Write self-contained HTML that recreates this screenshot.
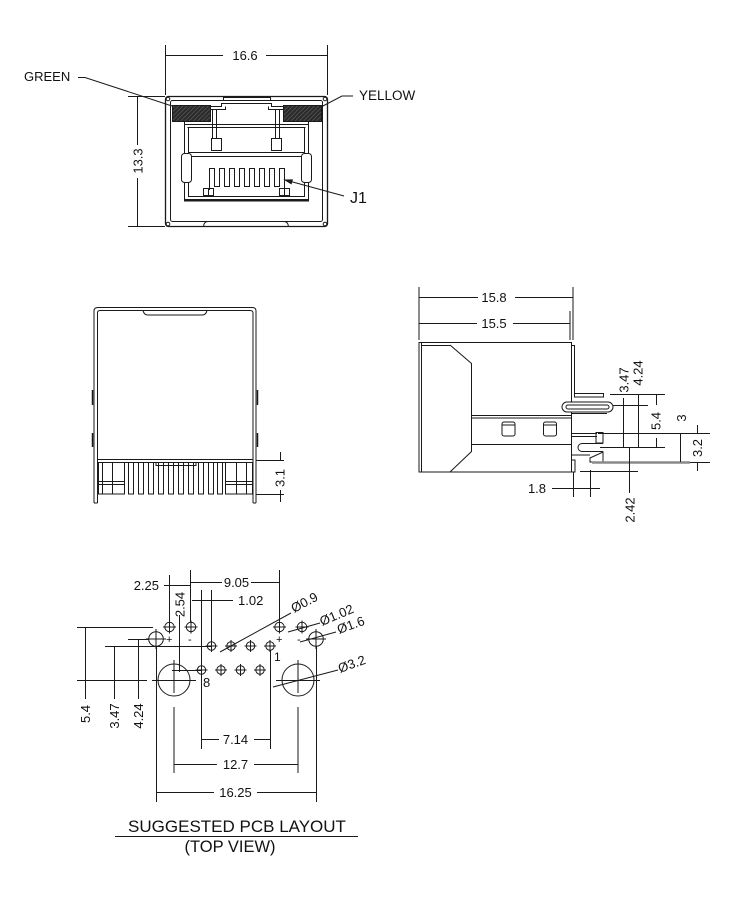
<!DOCTYPE html>
<html><head><meta charset="utf-8"><style>
html,body{margin:0;padding:0;background:#fff}
svg{display:block}
text{font-family:"Liberation Sans",Arial,sans-serif;fill:#111;stroke:none}
</style></head><body>
<svg width="750" height="900" viewBox="0 0 750 900" xmlns="http://www.w3.org/2000/svg">
<defs>
<pattern id="h" width="3" height="3" patternUnits="userSpaceOnUse" patternTransform="rotate(45)"><rect width="3" height="3" fill="#2b2b2b"/><line x1="0" y1="0" x2="0" y2="3" stroke="#6a6a6a" stroke-width="1"/></pattern>
</defs>
<g fill="none" stroke="#1a1a1a" stroke-width="1">
<!-- ===== FRONT VIEW ===== -->
<rect x="165.5" y="96.5" width="162" height="130" rx="3" stroke-width="1.3"/>
<rect x="170.5" y="100.5" width="152" height="121" rx="2"/>
<circle cx="168" cy="99" r="1.8"/><circle cx="325" cy="99" r="1.8"/>
<circle cx="168" cy="224" r="1.8"/><circle cx="325" cy="224" r="1.8"/>
<rect x="172.5" y="105.5" width="38" height="16" fill="url(#h)"/>
<rect x="283.5" y="105.5" width="38" height="16" fill="url(#h)"/>
<path d="M223.5 100.5 V97.5 H270.5 V100.5"/>
<path d="M210.5 106.5 H221.5 V103.5 H271.5 V106.5 H283.5"/>
<path d="M210.5 109.5 H225.5 V106.5"/><path d="M283.5 109.5 H268.5 V106.5"/>
<path d="M212.5 109 V138.5 M216.5 109 V138.5"/>
<rect x="211.5" y="138.5" width="10" height="12"/>
<path d="M275.5 109 V138.5 M279.5 109 V138.5"/>
<rect x="271.5" y="138.5" width="10" height="12"/>
<path d="M184.5 121.5 V199.5 H308.5 V121.5"/>
<path d="M184 200.5 H309" stroke-width="2"/>
<path d="M184.5 124.5 H308.5 M187.5 127.5 H305.5"/>
<path d="M188.5 152.5 H304.5 M191.5 156.5 H301.5"/>
<path d="M188.5 128 V196.5 H304.5 V128"/>
<rect x="181.5" y="153.5" width="10" height="29" rx="3" fill="#fff"/>
<rect x="301.5" y="153.5" width="10" height="29" rx="3" fill="#fff"/>
<path d="M209.5 190 V168.5 H214.5 V186.5 H219.5 V168.5 H224.5 V186.5 H229.5 V168.5 H234.5 V186.5 H239.5 V168.5 H244.5 V186.5 H249.5 V168.5 H254.5 V186.5 H259.5 V168.5 H264.5 V186.5 H269.5 V168.5 H274.5 V186.5 H279.5 V168.5 H284.5 V190"/>
<rect x="203.5" y="188.5" width="10" height="7"/><path d="M208.5 188.5 V195.5"/>
<rect x="279.5" y="188.5" width="10" height="7"/><path d="M284.5 188.5 V195.5"/>
<path d="M203.5 226.5 Q204 221.5 208 221.5 H283.5 Q288 221.5 288.5 226.5"/>
<!-- leaders -->
<polyline points="78,77.5 85,77.5 172,106"/>
<polyline points="353,96 342,96 321,107"/>
<line x1="289" y1="181" x2="344" y2="196"/>
<polygon points="285,180 291.2,183.7 292.3,179.9" fill="#1a1a1a"/>
<!-- dims -->
<path d="M165.5 45 V95 M327.5 45 V95"/>
<path d="M166 55.5 H223 M266 55.5 H327"/>
<path d="M128 96.5 H165 M128 226.5 H165"/>
<path d="M137.5 96.5 V145 M137.5 178 V226.5"/>

<!-- ===== SIDE VIEW (left) ===== -->
<path d="M94 503 V311 Q94 307.5 98 307.5 H252 Q256 307.5 256 311 V503"/>
<path d="M97.5 503 V313 Q97.5 310.5 100 310.5 H250 Q253 310.5 253 313 V503"/>
<path d="M94 503 H97.5 M253 503 H256"/>
<path d="M143 310.5 Q144 315 148 315 H202 Q206 315 207 310.5"/>
<path d="M92.5 390 V405 M92.5 433 V447 M257.5 390 V405 M257.5 433 V447" stroke-width="1.5"/>
<path d="M97.5 459.5 H253 M98 462.5 H252"/>
<rect x="98.5" y="462.5" width="26" height="31.5"/>
<path d="M102.5 462.5 V494 M112.5 462.5 V494 M98.5 481.5 H124.5 M98.5 484.5 H124.5"/>
<rect x="128.5" y="462.5" width="5" height="31.5"/>
<rect x="138.5" y="462.5" width="5" height="31.5"/>
<rect x="148.5" y="462.5" width="5" height="31.5"/>
<rect x="158.5" y="462.5" width="5" height="31.5"/>
<rect x="168.5" y="462.5" width="5" height="31.5"/>
<rect x="178.5" y="462.5" width="5" height="31.5"/>
<rect x="188.5" y="462.5" width="5" height="31.5"/>
<rect x="198.5" y="462.5" width="5" height="31.5"/>
<rect x="208.5" y="462.5" width="5" height="31.5"/>
<rect x="217.5" y="462.5" width="5" height="31.5"/>
<path d="M156 462.5 V465.5 H196 V462.5"/>
<rect x="225.5" y="462.5" width="27" height="31.5"/>
<path d="M236.5 462.5 V494 M246.5 462.5 V494 M225.5 481.5 H252.5 M225.5 484.5 H252.5"/>
<path d="M256 460.5 H284 M256 494.5 H284"/>
<path d="M280.5 452 V461 M280.5 490 V502"/>

<!-- ===== SIDE VIEW (right) ===== -->
<path d="M419 342.5 H571.5 V472 H419 Z"/>
<path d="M421.5 342.5 V472 M421.5 345.5 H450"/>
<path d="M450 345 L471.5 363.5 V451.5 L450 472"/>
<path d="M471.5 415.5 H571.5 M471.5 418 H571.5 M471.5 444.5 H571.5"/>
<rect x="502" y="422" width="13" height="14" rx="2"/><path d="M502 425 H515"/>
<rect x="543.5" y="422" width="13" height="14" rx="2"/><path d="M543.5 425 H556.5"/>
<path d="M571.5 345.5 H574.5 V393 M571.5 460 H575 V472 H571.5"/>
<rect x="574.5" y="393.5" width="29" height="3.5"/>
<rect x="562" y="402" width="51" height="10" rx="5" fill="#fff"/>
<rect x="566" y="405" width="43" height="4" rx="2"/>
<path d="M571.5 413.5 H607"/>
<path d="M571.5 433.5 H597 M571.5 436.5 H597"/>
<path d="M596 432.5 H603 V443 H596 Z"/>
<path d="M603 443.5 H582 A4 4 0 0 0 582 451.5 H603"/>
<path d="M571.5 455 H590 M590 462 V458 L603 452 V462 Z"/>
<line x1="592" y1="462.5" x2="690" y2="462.5" stroke="#8a8a8a" stroke-width="2.5"/>
<path d="M690 462.5 H710"/>
<!-- dims right -->
<path d="M419 287 V340 M573 287 V340 M570 311 V340"/>
<path d="M419 297.5 H478 M515 297.5 H573"/>
<path d="M419 323.5 H477 M513 323.5 H570"/>
<path d="M610 394.5 H665 M613 405.5 H648"/>
<path d="M623.5 398 V447 M638.5 394 V447"/>
<path d="M656.5 394 V405 M656.5 438 V447"/>
<path d="M600 447.5 H665 M598 433.5 H710"/>
<path d="M680.5 433 V462 M697.5 425 V433 M697.5 462 V471"/>
<path d="M573.5 472 V497 M590.5 470 V497 M552 488.5 H600 M580 471.5 H638"/>
<path d="M629.5 448 V493"/>

<!-- ===== PCB LAYOUT ===== -->
<!-- circles -->
<circle cx="169.5" cy="627" r="4.7"/><circle cx="191" cy="627" r="4.7"/>
<circle cx="279.5" cy="627" r="4.7"/><circle cx="302" cy="627" r="4.7"/>
<circle cx="156" cy="639" r="7.3"/><circle cx="316" cy="639" r="7.3"/>
<circle cx="211.5" cy="646" r="4.2"/><circle cx="231" cy="646" r="4.2"/>
<circle cx="250.5" cy="646" r="4.2"/><circle cx="270" cy="646" r="4.2"/>
<circle cx="201.5" cy="670" r="4.2"/><circle cx="221" cy="670" r="4.2"/>
<circle cx="240.5" cy="670" r="4.2"/><circle cx="260" cy="670" r="4.2"/>
<circle cx="174" cy="680" r="16"/><circle cx="298" cy="680" r="16"/>
<!-- crosshairs -->
<path d="M163 627 H176 M169.5 620.5 V633.5 M184.5 627 H197.5 M191 620.5 V633.5 M273 627 H286 M279.5 620.5 V633.5 M295.5 627 H308.5 M302 620.5 V633.5"/>
<path d="M146 639 H166 M156 629 V649 M306 639 H326 M316 629 V649"/>
<path d="M205.5 646 H217.5 M211.5 640 V652 M225 646 H237 M231 640 V652 M244.5 646 H256.5 M250.5 640 V652 M264 646 H276 M270 640 V652"/>
<path d="M195.5 670 H207.5 M201.5 664 V676 M215 670 H227 M221 664 V676 M234.5 670 H246.5 M240.5 664 V676 M254 670 H266 M260 664 V676"/>
<path d="M152 680.5 H196 M276 680.5 H320"/>
<!-- ref lines -->
<path d="M77 627.5 H153 M128 639.5 H149 M105 646.5 H211 M77 680.5 H147 M172 670.5 H201"/>
<path d="M179.5 615 V672"/>
<path d="M85.5 627 V699 M114.5 646 V699 M138.5 639 V699"/>
<path d="M156.5 646 V802 M316.5 646 V802"/>
<path d="M174 660 V693 M174 707 V773 M298 660 V693 M298 707 V773"/>
<path d="M201.5 590 V749 M270.5 650 V749 M211.5 590 V642"/>
<path d="M169.5 575 V622 M190.5 570 V622 M279.5 570 V622"/>
<path d="M164 585.5 H190 M191 582.5 H222 M251 582.5 H279 M192 600.5 H233"/>
<path d="M201.5 739.5 H219 M254 739.5 H270.5 M174 764.5 H217 M254 764.5 H298 M157 792.5 H214 M257 792.5 H316"/>
<!-- leaders -->
<path d="M220 652 L291 613 M288 632 L320 623 M300 642 L336 632 M273 687 L338 670"/>
<path d="M115 836.5 H358"/>
</g>

<!-- TEXT -->
<g font-size="13">
<text x="245" y="60" text-anchor="middle">16.6</text>
<text transform="translate(142.5,161) rotate(-90)" text-anchor="middle">13.3</text>
<text x="24" y="81" font-size="13">GREEN</text>
<text x="359" y="100" font-size="13.5">YELLOW</text>
<text x="350" y="203" font-size="16">J1</text>

<text transform="translate(284.5,478) rotate(-90)" text-anchor="middle">3.1</text>

<text x="494" y="302" text-anchor="middle">15.8</text>
<text x="494" y="328" text-anchor="middle">15.5</text>
<text transform="translate(628.5,380) rotate(-90)" text-anchor="middle">3.47</text>
<text transform="translate(642.5,373) rotate(-90)" text-anchor="middle">4.24</text>
<text transform="translate(660.5,421) rotate(-90)" text-anchor="middle">5.4</text>
<text transform="translate(686,418) rotate(-90)" text-anchor="middle">3</text>
<text transform="translate(702,448) rotate(-90)" text-anchor="middle">3.2</text>
<text x="537" y="493" text-anchor="middle">1.8</text>
<text transform="translate(634.5,510) rotate(-90)" text-anchor="middle">2.42</text>

<text x="159" y="590" text-anchor="end">2.25</text>
<text transform="translate(184.5,604.5) rotate(-90)" text-anchor="middle">2.54</text>
<text x="236.5" y="587" text-anchor="middle">9.05</text>
<text x="238" y="605">1.02</text>
<text transform="translate(294,613) rotate(-28)">Ø0.9</text>
<text transform="translate(322,626) rotate(-23)">Ø1.02</text>
<text transform="translate(339,634) rotate(-20)">Ø1.6</text>
<text transform="translate(340,673) rotate(-20)">Ø3.2</text>
<text x="166" y="643" font-size="11">+</text>
<text x="188" y="643" font-size="11">-</text>
<text x="276" y="643" font-size="11">+</text>
<text x="297" y="643" font-size="11">-</text>
<text x="274" y="661" font-size="12">1</text>
<text x="203" y="687" font-size="13">8</text>
<text transform="translate(90,714) rotate(-90)" text-anchor="middle">5.4</text>
<text transform="translate(119,716) rotate(-90)" text-anchor="middle">3.47</text>
<text transform="translate(143,716) rotate(-90)" text-anchor="middle">4.24</text>
<text x="235.5" y="744" text-anchor="middle">7.14</text>
<text x="235.5" y="769" text-anchor="middle">12.7</text>
<text x="235.5" y="797" text-anchor="middle">16.25</text>
<text x="237" y="832" text-anchor="middle" font-size="17">SUGGESTED PCB LAYOUT</text>
<text x="230" y="852" text-anchor="middle" font-size="16.5">(TOP VIEW)</text>
</g>
</svg>
</body></html>
